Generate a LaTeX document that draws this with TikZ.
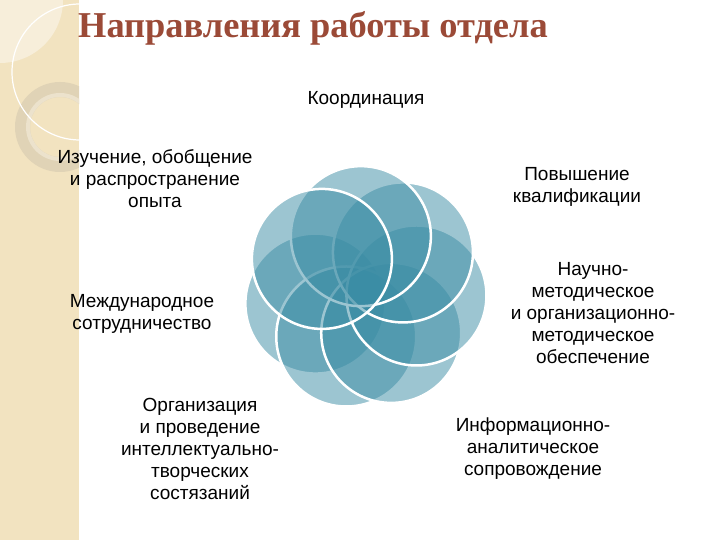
\documentclass[tikz,border=0pt]{standalone}
\usepackage{fontspec}
\setmainfont{Liberation Sans}
\newfontfamily\titlefont{Liberation Serif}
\definecolor{stripc}{RGB}{242,227,192}
\definecolor{stripl}{RGB}{247,238,218}
\definecolor{ringc}{RGB}{224,211,182}
\definecolor{ringl}{RGB}{236,226,204}
\definecolor{titlec}{RGB}{155,74,55}
\definecolor{petalc}{RGB}{59,141,165}
\begin{document}
\begin{tikzpicture}[x=1pt,y=1pt,
  petal/.style={fill=petalc, fill opacity=0.5, draw=white, draw opacity=1, line width=2.5pt},
  lbl/.style={align=center, inner sep=0pt, font=\fontsize{19}{22}\selectfont, text=black}]
\useasboundingbox (0,0) rectangle (720,540);
\fill[white] (0,0) rectangle (720,540);
\fill[stripc] (0,0) rectangle (79,540);
\begin{scope}
  \clip (0,0) rectangle (79,540);
  \fill[stripl] (0,540) -- (63,540) arc[start angle=0,end angle=-90,radius=63] -- cycle;
  \fill[ringc, even odd rule] (60,413) circle[radius=45] (60,413) circle[radius=30];
  \fill[ringl, even odd rule] (60,413) circle[radius=34] (60,413) circle[radius=30];
  \draw[white, line width=1.2pt] (80,468) circle[radius=68];
\end{scope}
\node[anchor=base west, font=\titlefont\bfseries\fontsize{36.4}{40}\selectfont, text=titlec, inner sep=0pt] (title) at (78,502) {Направления работы отдела};
\begin{scope}[shift={(365,252)}]
  \foreach \k in {1,...,7} {
    \pgfmathsetmacro\ang{146+51.4286*\k}
    \filldraw[petal] (\ang:52) circle[radius=70];
  }
\end{scope}
\node[lbl] (koord) at (366,440) {Координация};
\node[lbl] (izuch) at (155,361) {Изучение, обобщение\\и распространение\\опыта};
\node[lbl] (povysh) at (577,353) {Повышение\\квалификации};
\node[lbl] (nauch) at (593,227) {Научно-\\методическое\\и организационно-\\методическое\\обеспечение};
\node[lbl] (mezhd) at (142,226) {Международное\\сотрудничество};
\node[lbl] (organ) at (200,91) {Организация\\и проведение\\интеллектуально-\\творческих\\состязаний};
\node[lbl] (inform) at (533,91) {Информационно-\\аналитическое\\сопровождение};
\end{tikzpicture}
\end{document}
